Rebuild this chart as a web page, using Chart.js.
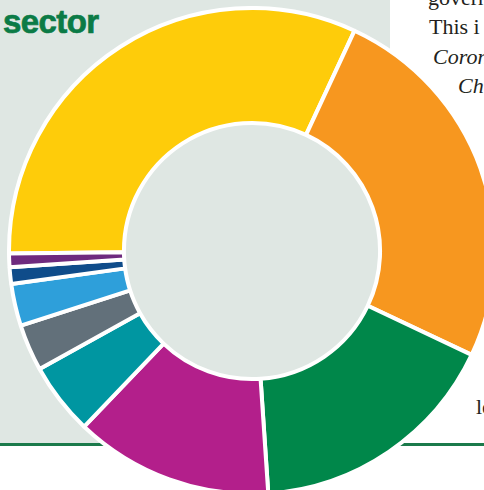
<!DOCTYPE html>
<html>
<head>
<meta charset="utf-8">
<script src="https://cdn.jsdelivr.net/npm/chart.js@4/dist/chart.umd.min.js"></script>
<style>
  html, body { margin: 0; padding: 0; background: #ffffff; }
  body { position: relative; width: 484px; height: 490px; overflow: hidden; }
  .panel { position: absolute; left: 0; top: 0; width: 390px; height: 443px; background: #dfe7e3; }
  .rule { position: absolute; left: 0; top: 443px; width: 484px; height: 3px; background: #1b7a4b; }
  .title { position: absolute; left: 3px; top: 4px; font: bold 33px "Liberation Sans Narrow", "Liberation Sans", sans-serif;
           color: #0b7b46; letter-spacing: -0.6px; line-height: 36px; white-space: nowrap;
           -webkit-text-stroke: 0.7px #0b7b46; }
  .copy { position: absolute; font: 22px "Liberation Serif", serif; color: #231f20; white-space: nowrap; line-height: 22px; }
  .copy.it { font-style: italic; }
  #wrap { position: absolute; left: 7px; top: 6px; width: 490px; height: 490px; }
</style>
</head>
<body>
<div class="panel"></div>
<div class="rule"></div>
<div class="title">sector</div>
<div class="copy" style="left:428px;top:-13px">govern</div>
<div class="copy" style="left:429px;top:16px">This i</div>
<div class="copy it" style="left:433px;top:46px">Coron</div>
<div class="copy it" style="left:458px;top:75px">Ch</div>
<div class="copy" style="left:476px;top:396px">le</div>
<div id="wrap"><canvas id="donut" width="490" height="490"></canvas></div>
<script>
  // shares by sector, clockwise from the top-left
  var sectors = ['Sector 1', 'Sector 2', 'Sector 3', 'Sector 4', 'Sector 5', 'Sector 6', 'Sector 7', 'Sector 8', 'Sector 9'];
  var shares = [32.1, 25.1, 16.9, 13.2, 4.8, 3.1, 2.8, 1.1, 0.9];
  var colours = ['#fecc0a', '#f7971f', '#00874a', '#b31f8b', '#0096a1', '#62707a', '#2e9fda', '#0f4c8a', '#6e2a7e'];

  new Chart(document.getElementById('donut'), {
    type: 'doughnut',
    data: {
      labels: sectors,
      datasets: [{
        data: shares,
        backgroundColor: colours,
        borderColor: '#ffffff',
        borderWidth: 4
      }]
    },
    options: {
      responsive: false,
      animation: false,
      events: [],
      rotation: -90.6,
      cutout: '52.7%',
      layout: { padding: 0 },
      plugins: {
        legend: { display: false },
        tooltip: { enabled: false }
      }
    }
  });
</script>
</body>
</html>
